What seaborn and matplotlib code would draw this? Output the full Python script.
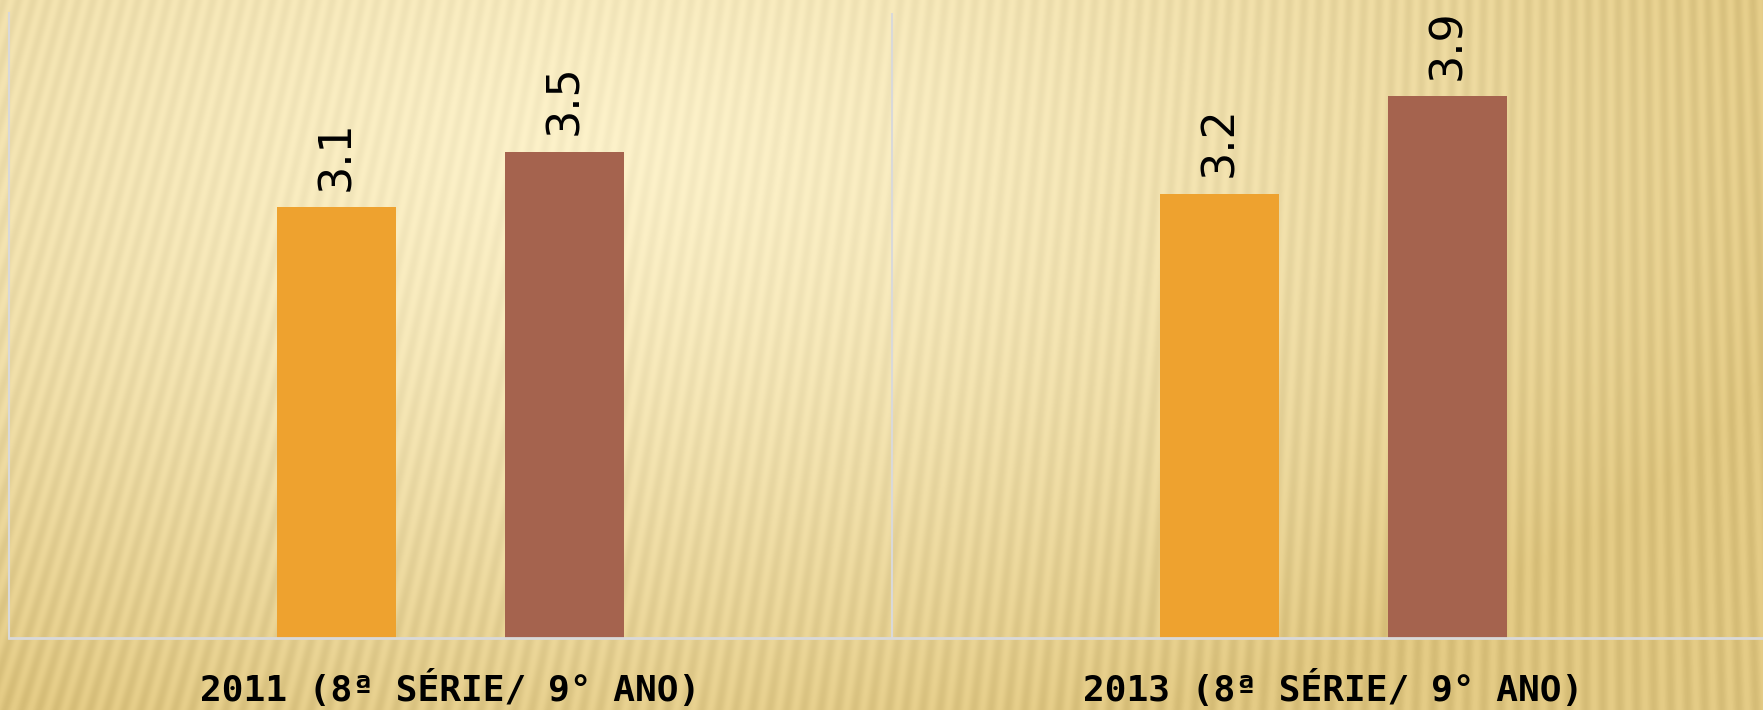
import numpy as np
import pandas as pd
import matplotlib.pyplot as plt
import seaborn as sns

# Data
categories = ["2011 (8ª SÉRIE/ 9° ANO)", "2013 (8ª SÉRIE/ 9° ANO)"]
series_names = ["Série 1", "Série 2"]
values_s1 = [3.1, 3.2]
values_s2 = [3.5, 3.9]

colors = ["#EEA22F", "#A5634E"]

df = pd.DataFrame({
    "categoria": categories * 2,
    "serie": [series_names[0]] * 2 + [series_names[1]] * 2,
    "valor": values_s1 + values_s2,
})

W, H = 1763, 710
fig = plt.figure(figsize=(W / 100, H / 100), dpi=100)

# background: warm yellow gradient with soft slanted stripes
bg = fig.add_axes([0, 0, 1, 1], zorder=0)
yy, xx = np.mgrid[0:H, 0:W].astype(float)
light = np.array([253, 242, 202]) / 255
dark = np.array([229, 204, 134]) / 255
t = np.sqrt(((xx - 600) / 1250) ** 2 + ((yy - 150) / 620) ** 2)
t = np.clip(t, 0, 1) ** 1.4
slope = 0.34 * (1 - xx / W) - 0.03
phase = (xx - slope * (H - yy)) / 17.0 * 2 * np.pi
stripe = 0.5 + 0.5 * np.sin(phase)
amp = 0.03 + 0.03 * t
img = light[None, None, :] * (1 - t[..., None]) + dark[None, None, :] * t[..., None]
img = img - (stripe * amp)[..., None]
bg.imshow(np.clip(img, 0, 1), aspect="auto", extent=[0, W, H, 0])
bg.axis("off")

ax = fig.add_axes([9 / W, 72 / H, 1766 / W, 625 / H], zorder=1)
ax.patch.set_alpha(0)

sns.barplot(data=df, x="categoria", y="valor", hue="serie",
            palette=colors, width=0.518, gap=0.48, legend=False,
            saturation=1, ax=ax)

for cont in ax.containers:
    ax.bar_label(cont, fmt="%.1f", rotation=90, padding=12,
                 fontsize=32, color="black")

ax.set_ylim(0, 4.5)
ax.set_xlim(-0.5, 1.5)
ax.set_ylabel("")
ax.set_xlabel("")
ax.set_yticks([])
ax.tick_params(axis="x", length=0, pad=23, labelsize=26)
for lab in ax.get_xticklabels():
    lab.set_fontfamily("DejaVu Sans Mono")
    lab.set_fontweight("bold")

for s in ["top", "right"]:
    ax.spines[s].set_visible(False)
ax.spines["left"].set_color("#D9D9D9")
ax.spines["bottom"].set_color("#D9D9D9")
ax.spines["left"].set_linewidth(1.5)
ax.spines["bottom"].set_linewidth(2)
ax.axvline(0.5, color="#D9D9D9", lw=1.5, zorder=0)

fig.savefig("out.png", dpi=100)
